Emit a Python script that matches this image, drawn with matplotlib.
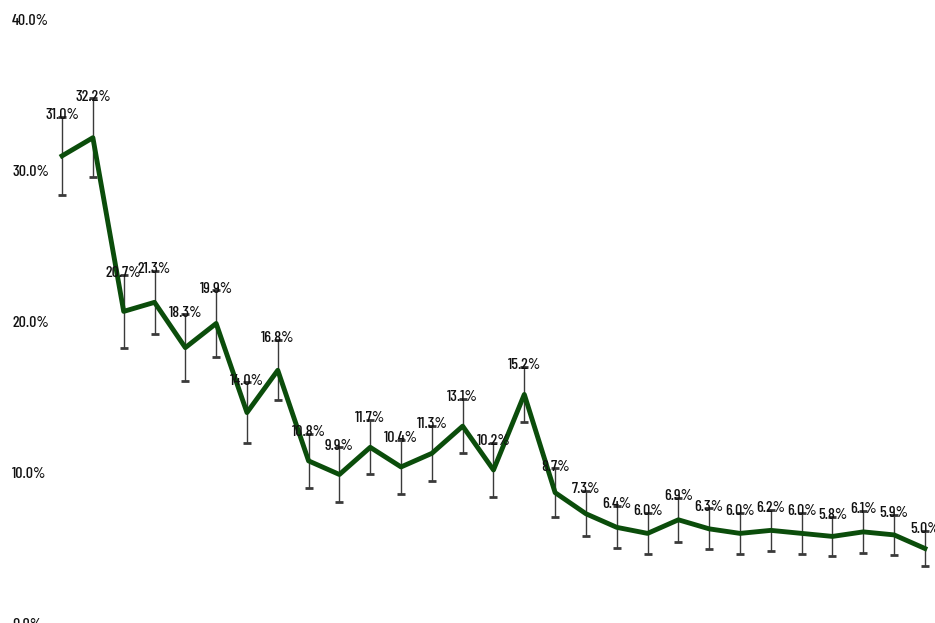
import matplotlib.pyplot as plt

# share of respondents per category (%)
VALUES = [31.0, 32.2, 20.7, 21.3, 18.3, 19.9, 14.0, 16.8, 10.8, 9.9,
          11.7, 10.4, 11.3, 13.1, 10.2, 15.2, 8.7, 7.3, 6.4, 6.0,
          6.9, 6.3, 6.0, 6.2, 6.0, 5.8, 6.1, 5.9, 5.0]
# half-width of the error bars (%)
ERRORS = [2.6, 2.6, 2.4, 2.1, 2.2, 2.2, 2.0, 2.0, 1.8, 1.8,
          1.8, 1.8, 1.8, 1.8, 1.8, 1.85, 1.6, 1.5, 1.4, 1.35,
          1.45, 1.35, 1.35, 1.35, 1.35, 1.3, 1.4, 1.35, 1.15]
Y_TICKS = [0, 10, 20, 30, 40]

LINE_COLOR = '#0b4d0b'
BAR_COLOR = '#3a3a3a'
TEXT_COLOR = '#111111'

plt.rcParams['font.family'] = ['Barlow Condensed', 'Archivo Narrow', 'DejaVu Sans']
plt.rcParams['font.weight'] = 'medium'

fig = plt.figure(figsize=(9.35, 6.23), dpi=100)
ax = fig.add_axes([0.0532, -0.0016, 0.9459, 0.9696])

x_pos = list(range(len(VALUES)))

ax.errorbar(x_pos, VALUES, yerr=ERRORS, fmt='none', ecolor=BAR_COLOR,
            elinewidth=1, capsize=3, capthick=2, zorder=2)
ax.plot(x_pos, VALUES, color=LINE_COLOR, linewidth=3.5, zorder=3)

for x, value, err in zip(x_pos, VALUES, ERRORS):
    ax.text(x, value + err - 0.15, f'{value:.1f}%', ha='center', va='baseline',
            fontsize=11.5, color=TEXT_COLOR, zorder=4)

ax.set_xlim(-0.4, 28.3)
ax.set_ylim(0, 40)
ax.set_yticks(Y_TICKS)
ax.set_yticklabels([f'{t:.1f}%' for t in Y_TICKS], fontsize=11.5, color=TEXT_COLOR, ha='left')
ax.set_xticks([])
# left edge of the tick labels sits about 12 px from the figure edge
ax.tick_params(axis='y', length=0, pad=27)
for spine in ax.spines.values():
    spine.set_visible(False)

plt.savefig('out.png', dpi=100)
